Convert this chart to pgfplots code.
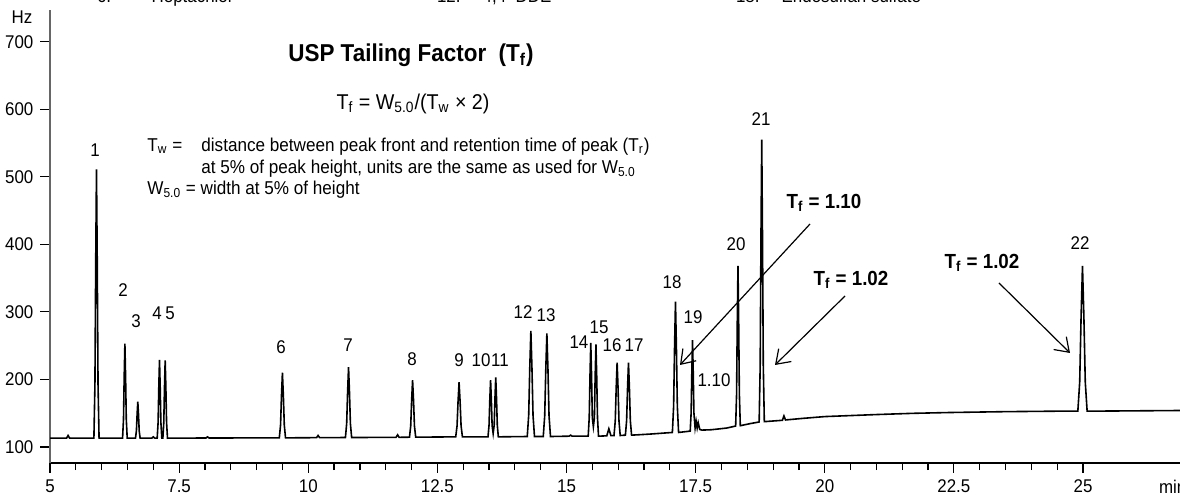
\documentclass[border=0pt]{standalone}
\usepackage{pgfplots}
\pgfplotsset{compat=1.18}
\usetikzlibrary{arrows.meta}
\usepackage{fontspec}
\setmainfont{Liberation Sans}[FakeStretch=0.92]
\newcommand{\tk}{\fontsize{9.2}{10.5}\selectfont}
\newcommand{\tx}{\fontsize{9.3}{11}\selectfont}
\begin{document}
\begin{tikzpicture}
\begin{axis}[
  at={(0,0)}, anchor=south west,
  scale only axis, width=565pt, height=226.5pt,
  xmin=5, xmax=26.878, ymin=76.3, ymax=746.9,
  axis x line=bottom, axis y line=left,
  x axis line style={-, black, line width=0.8pt},
  y axis line style={-, black!60, line width=0.8pt},
  xtick={5,7.5,10,12.5,15,17.5,20,22.5,25},
  minor x tick num=4,
  ytick={100,200,300,400,500,600,700},
  tick align=outside,
  major tick length=4.8pt, minor tick length=3.6pt,
  tick style={black, line width=0.6pt},
  tick label style={font=\tk},
  /pgf/number format/assume math mode=true,
  clip=false,
]
\addplot[black, line width=0.8pt] coordinates {
(5.00,113) (5.32,113) (5.35,117) (5.38,113)
(5.85,113) (5.87,192.6) (5.885,371.7) (5.90,511) (5.915,371.7) (5.93,192.6) (5.95,113)
(6.405,113) (6.423,141) (6.4365,204) (6.45,253) (6.4635,204) (6.477,141) (6.495,113)
(6.655,113) (6.673,123.8) (6.6865,148.1) (6.70,167) (6.7135,148.1) (6.727,123.8) (6.745,113)
(6.97,113) (7.0,115) (7.03,113)
(7.075,113) (7.093,136.2) (7.1065,188.4) (7.12,229) (7.1335,188.4) (7.147,136.2) (7.165,113)
(7.185,113) (7.203,136) (7.2165,187.8) (7.23,228) (7.2435,187.8) (7.257,136) (7.275,113)
(8.02,113.3) (8.05,115) (8.08,113.3)
(9.44,113.5) (9.464,132.8) (9.482,176.2) (9.50,210) (9.518,176.2) (9.536,132.8) (9.56,113.5)
(10.16,113.8) (10.19,117) (10.22,113.8)
(10.72,114) (10.744,134.8) (10.762,181.6) (10.78,218) (10.798,181.6) (10.816,134.8) (10.84,114)
(11.70,114.3) (11.73,118) (11.76,114.3)
(11.96,114.5) (11.984,131.4) (12.002,169.4) (12.02,199) (12.038,169.4) (12.056,131.4) (12.08,114.5)
(12.855,115) (12.881,131.2) (12.9005,167.7) (12.92,196) (12.9395,167.7) (12.959,131.2) (12.985,115)
(13.48,115) (13.50,131.8) (13.515,169.6) (13.53,199) (13.545,169.6) (13.56,131.8) (13.58,120)
(13.60,132.6) (13.615,172.2) (13.63,203) (13.645,172.2) (13.66,132.6) (13.68,115)
(14.24,115.5) (14.268,146.8) (14.289,217.2) (14.31,272) (14.331,217.2) (14.352,146.8) (14.38,115.5)
(14.55,115.5) (14.578,146) (14.599,214.6) (14.62,268) (14.641,214.6) (14.662,146) (14.69,115.5)
(15.05,116) (15.08,117.5) (15.11,116)
(15.42,116) (15.44,143.6) (15.455,205.7) (15.47,254) (15.485,205.7) (15.50,143.6) (15.52,130)
(15.54,143.2) (15.555,204.4) (15.57,252) (15.585,204.4) (15.60,143.2) (15.62,116)
(15.78,116.5) (15.82,127) (15.86,116.8)
(15.92,117) (15.944,138.6) (15.962,187.2) (15.98,225) (15.998,187.2) (16.016,138.6) (16.04,117)
(16.14,117.5) (16.164,139) (16.182,187.4) (16.20,225) (16.218,187.4) (16.236,139) (16.26,117.5)
(16.6,119)
(17.05,121.5) (17.074,160.2) (17.092,247.3) (17.11,315) (17.128,247.3) (17.146,160.2) (17.17,121.5)
(17.395,123.5) (17.413,150.4) (17.4265,210.9) (17.44,258) (17.4535,210.9) (17.467,150.4) (17.49,128)
(17.51,138) (17.53,128) (17.55,136) (17.58,126) (17.62,125)
(17.8,125.5) (18.1,128)
(18.275,131) (18.293,178.4) (18.3065,285) (18.32,368) (18.3335,285) (18.347,178.4) (18.365,131.5)
(18.55,134.5)
(18.73,137) (18.75,220.6) (18.765,408.7) (18.78,555) (18.795,408.7) (18.81,220.6) (18.83,137.5)
(19.18,139.5) (19.21,146) (19.24,140)
(19.6,142.5) (20,145) (20.5,146.5) (21,148) (21.7,149.8) (22.4,151) (23.5,152.3) (24.5,153)
(24.90,153) (24.936,196) (24.963,292.8) (24.99,368) (25.017,292.8) (25.044,196) (25.08,153)
(26,153.5) (26.878,154)
};
\end{axis}
\begin{scope}[x=0.5pt, y=-0.5pt, xshift=-25pt, yshift=231.5pt]
  % cut-off header (cropped in the reference too)
  \node[anchor=base west, font=\tk] at (90,3) {6.\hspace{2.2em}Heptachlor};
  \node[anchor=base west, font=\tk] at (430,3) {12.\hspace{1.2em}4,4'-DDE};
  \node[anchor=base west, font=\tk] at (729,3) {18.\hspace{1.2em}Endosulfan sulfate};
  % axis units
  \node[font=\tk] at (22,17) {Hz};
  \node[font=\tk, anchor=west] at (1152,487) {min};
  % title and formula
  \node[font=\bfseries\fontsize{12.2}{14}\selectfont] at (411,55) {USP Tailing Factor\ \ (T\textsubscript{f})};
  \node[font=\fontsize{10.7}{12}\selectfont] at (413,104) {T\textsubscript{f} = W\textsubscript{5.0}/(T\textsubscript{w} × 2)};
  \node[font=\tx, anchor=base west, inner sep=0pt] at (147,152) {T\textsubscript{w} =};
  \node[font=\tx, anchor=base west, inner sep=0pt] at (201,152) {distance between peak front and retention time of peak (T\textsubscript{r})};
  \node[font=\tx, anchor=base west, inner sep=0pt] at (201,174) {at 5\% of peak height, units are the same as used for W\textsubscript{5.0}};
  \node[font=\tx, anchor=base west, inner sep=0pt] at (147,195) {W\textsubscript{5.0} = width at 5\% of height};
  % peak labels
  \begin{scope}[every node/.style={font=\tk}]
  \node at (95,150) {1};
  \node at (123,290) {2};
  \node at (136,321) {3};
  \node at (157,313) {4};
  \node at (170,313) {5};
  \node at (281,347) {6};
  \node at (348,345) {7};
  \node at (412,359) {8};
  \node at (459,360) {9};
  \node at (481,360) {10};
  \node at (500,360) {11};
  \node at (523,312) {12};
  \node at (546,315) {13};
  \node at (579,342) {14};
  \node at (599,327) {15};
  \node at (612,345) {16};
  \node at (634,345) {17};
  \node at (672,282) {18};
  \node at (693,317) {19};
  \node at (714,380) {1.10};
  \node at (736,244) {20};
  \node at (761,119) {21};
  \node at (1080,243) {22};
  \end{scope}
  % Tf annotations
  \begin{scope}[every node/.style={font=\bfseries\fontsize{10.2}{12}\selectfont}]
  \node at (824,203) {T\textsubscript{f} = 1.10};
  \node at (851,280) {T\textsubscript{f} = 1.02};
  \node at (982,263) {T\textsubscript{f} = 1.02};
  \end{scope}
  \begin{scope}[line width=0.6pt, -{Straight Barb[length=6.5pt,width=9pt]}]
  \draw (810,224) -- (680,365);
  \draw (845,296) -- (775,365);
  \draw (999,283) -- (1070,353);
  \end{scope}
  \pgfresetboundingbox
  \path[use as bounding box] (0,0) rectangle (1180,496);
\end{scope}
\end{tikzpicture}
\end{document}
